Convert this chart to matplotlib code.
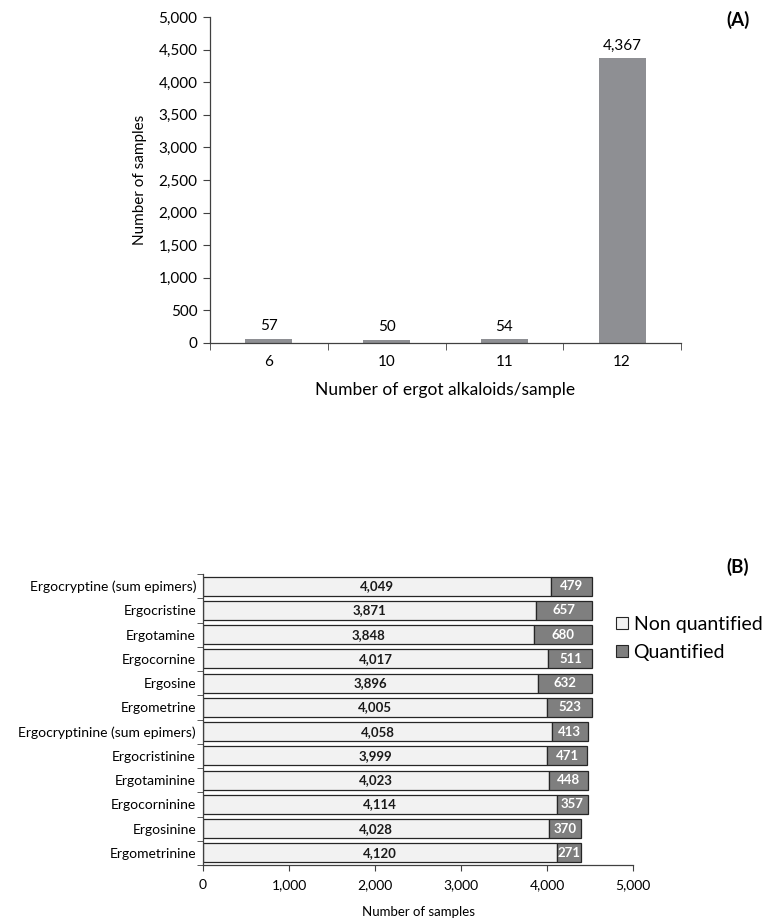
import matplotlib
matplotlib.use("Agg")
import matplotlib.pyplot as plt
import numpy as np
from matplotlib.patches import Patch

plt.rcParams['font.family'] = ['Lato', 'DejaVu Sans']

# Panel A data
a_categories = ['6', '10', '11', '12']
a_values = [57, 50, 54, 4367]

# Panel B data
b_categories = ['Ergocryptine (sum epimers)', 'Ergocristine', 'Ergotamine', 'Ergocornine',
                'Ergosine', 'Ergometrine', 'Ergocryptinine (sum epimers)', 'Ergocristinine',
                'Ergotaminine', 'Ergocorninine', 'Ergosinine', 'Ergometrinine']
b_nonquant = [4049, 3871, 3848, 4017, 3896, 4005, 4058, 3999, 4023, 4114, 4028, 4120]
b_quant = [479, 657, 680, 511, 632, 523, 413, 471, 448, 357, 370, 271]

W, H = 771, 923
fig = plt.figure(figsize=(W/100, H/100), dpi=100)

axcol = '#404040'

# ---------- Panel A ----------
axA = fig.add_axes([210/W, 1-343/H, (681-210)/W, (343-17)/H])
x = np.arange(len(a_categories))
axA.bar(x, a_values, width=0.4, color='#8e8f93')
axA.set_xlim(-0.5, len(a_categories)-0.5)
axA.set_ylim(0, 5000)
axA.set_yticks(np.arange(0, 5001, 500))
axA.set_yticklabels([f'{v:,}' for v in range(0, 5001, 500)], fontsize=11)
axA.set_xticks(x)
axA.set_xticklabels(a_categories, fontsize=11)
axA.tick_params(axis='x', which='major', length=0, pad=9)
axA.set_xticks(np.arange(-0.5, len(a_categories)), minor=True)
axA.tick_params(axis='x', which='minor', length=5, color=axcol, direction='out')
axA.tick_params(axis='y', length=5, color=axcol, direction='out', pad=4)
for s in ['top', 'right']:
    axA.spines[s].set_visible(False)
for s in ['left', 'bottom']:
    axA.spines[s].set_color(axcol)
    axA.spines[s].set_linewidth(0.9)
for xi, v in zip(x, a_values):
    axA.text(xi, v + 90, f'{v:,}', ha='center', va='bottom', fontsize=11)
axA.set_ylabel('Number of samples', fontsize=11, labelpad=8)
axA.set_xlabel('Number of ergot alkaloids/sample', fontsize=12.5, labelpad=9)
fig.text(738/W, 1-20/H, '(A)', fontsize=13.5, fontweight='bold', ha='center', va='center')

# ---------- Panel B ----------
axB = fig.add_axes([203/W, 1-865/H, (633-203)/W, (865-574)/H])
y = np.arange(len(b_categories))
h = 0.78
axB.barh(y, b_nonquant, height=h, color='#f2f2f2', edgecolor='#262626', linewidth=0.9)
axB.barh(y, b_quant, left=b_nonquant, height=h, color='#7f7f7f', edgecolor='#262626', linewidth=0.9)
axB.set_ylim(len(b_categories)-0.5, -0.5)
axB.set_xlim(0, 5000)
axB.set_yticks(y)
axB.set_yticklabels(b_categories, fontsize=10)
axB.tick_params(axis='y', which='major', length=0, pad=5)
axB.set_yticks(np.arange(-0.5, len(b_categories)), minor=True)
axB.tick_params(axis='y', which='minor', length=4, color=axcol, direction='out')
xt = np.arange(0, 5001, 1000)
axB.set_xticks(xt)
axB.set_xticklabels([f'{v:,}' for v in xt], fontsize=10)
axB.tick_params(axis='x', length=4, color=axcol, direction='out', pad=6)
for s in ['top', 'right']:
    axB.spines[s].set_visible(False)
for s in ['left', 'bottom']:
    axB.spines[s].set_color(axcol)
    axB.spines[s].set_linewidth(0.9)
for yi, nq, q in zip(y, b_nonquant, b_quant):
    axB.text(nq/2, yi, f'{nq:,}', ha='center', va='center', fontsize=9.5, fontweight='bold', color='#1a1a1a')
    axB.text(nq + q/2, yi, f'{q:,}', ha='center', va='center', fontsize=9.5, fontweight='bold', color='white')
axB.set_xlabel('Number of samples', fontsize=9.5, labelpad=11)
fig.text(738/W, 1-567/H, '(B)', fontsize=13.5, fontweight='bold', ha='center', va='center')

handles = [Patch(facecolor='#f2f2f2', edgecolor='#262626', linewidth=0.8),
           Patch(facecolor='#7f7f7f', edgecolor='#262626', linewidth=0.8)]
fig.legend(handles, ['Non quantified', 'Quantified'], loc='upper left',
           bbox_to_anchor=(616/W, 1-616/H), frameon=False, fontsize=14,
           handlelength=0.6, handleheight=0.6, handletextpad=0.3, labelspacing=0.55,
           borderaxespad=0, borderpad=0)

fig.savefig('out.png', dpi=100)
